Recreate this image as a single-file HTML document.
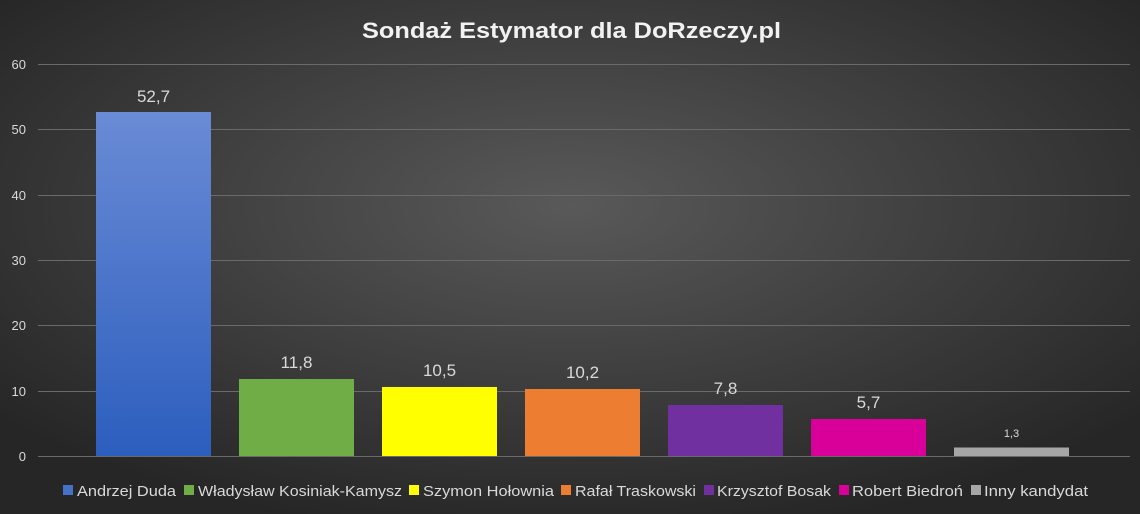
<!DOCTYPE html>
<html><head><meta charset="utf-8"><style>
html,body{margin:0;padding:0;width:1140px;height:514px;overflow:hidden}
text{font-family:"Liberation Sans",sans-serif}
</style></head><body>
<svg width="1140" height="514" xmlns="http://www.w3.org/2000/svg">
<defs>
<radialGradient id="bg" cx="50%" cy="40%" r="65%">
<stop offset="0" stop-color="#595959"/><stop offset="1" stop-color="#262626"/>
</radialGradient>
<linearGradient id="blue" x1="0" y1="0" x2="0" y2="1">
<stop offset="0" stop-color="#6a8bd5"/><stop offset="1" stop-color="#2c5ebe"/>
</linearGradient>
</defs>
<rect width="1140" height="514" fill="url(#bg)"/>
<text x="362" y="38" textLength="419" lengthAdjust="spacingAndGlyphs" font-size="22" font-weight="bold" fill="#f2f2f2">Sondaż Estymator dla DoRzeczy.pl</text>
<g stroke="#6a6a6a" stroke-width="1">
<line x1="38" x2="1130" y1="64.5" y2="64.5"/>
<line x1="38" x2="1130" y1="129.5" y2="129.5"/>
<line x1="38" x2="1130" y1="195.5" y2="195.5"/>
<line x1="38" x2="1130" y1="260.5" y2="260.5"/>
<line x1="38" x2="1130" y1="325.5" y2="325.5"/>
<line x1="38" x2="1130" y1="391.5" y2="391.5"/>
<line x1="38" x2="1130" y1="456.5" y2="456.5"/>
</g>
<g fill="#d9d9d9" font-size="13" text-anchor="end">
<text x="26" y="69">60</text><text x="26" y="134">50</text><text x="26" y="200">40</text>
<text x="26" y="265">30</text><text x="26" y="330">20</text><text x="26" y="396">10</text><text x="26" y="461">0</text>
</g>
<rect x="96" y="112" width="115" height="344" fill="url(#blue)"/>
<rect x="239" y="379" width="115" height="77" fill="#70ad47"/>
<rect x="382" y="387" width="115" height="69" fill="#ffff00"/>
<rect x="525" y="389" width="115" height="67" fill="#ed7d31"/>
<rect x="668" y="405" width="115" height="51" fill="#7030a0"/>
<rect x="811" y="419" width="115" height="37" fill="#d9009a"/>
<rect x="954" y="447.5" width="115" height="8.5" fill="#a6a6a6"/>
<g fill="#d9d9d9" font-size="17" text-anchor="middle">
<text x="153.5" y="102">52,7</text>
<text x="296.5" y="368">11,8</text>
<text x="439.5" y="376">10,5</text>
<text x="582.5" y="378">10,2</text>
<text x="725.5" y="394">7,8</text>
<text x="868.5" y="408">5,7</text>
<text x="1011.5" y="437" font-size="11">1,3</text>
</g>
<g font-size="15" fill="#d9d9d9">
<rect x="63" y="485" width="10" height="10" fill="#4472c4"/><text x="77" y="496" textLength="99" lengthAdjust="spacingAndGlyphs">Andrzej Duda</text>
<rect x="184" y="485" width="10" height="10" fill="#70ad47"/><text x="198" y="496" textLength="204" lengthAdjust="spacingAndGlyphs">Władysław Kosiniak-Kamysz</text>
<rect x="409" y="485" width="10" height="10" fill="#ffff00"/><text x="423" y="496" textLength="131" lengthAdjust="spacingAndGlyphs">Szymon Hołownia</text>
<rect x="561" y="485" width="10" height="10" fill="#ed7d31"/><text x="575" y="496" textLength="121" lengthAdjust="spacingAndGlyphs">Rafał Traskowski</text>
<rect x="704" y="485" width="10" height="10" fill="#7030a0"/><text x="717" y="496" textLength="114" lengthAdjust="spacingAndGlyphs">Krzysztof Bosak</text>
<rect x="839" y="485" width="10" height="10" fill="#d9009a"/><text x="852" y="496" textLength="111" lengthAdjust="spacingAndGlyphs">Robert Biedroń</text>
<rect x="971" y="485" width="10" height="10" fill="#a6a6a6"/><text x="984" y="496" textLength="104" lengthAdjust="spacingAndGlyphs">Inny kandydat</text>
</g>
</svg>
</body></html>
